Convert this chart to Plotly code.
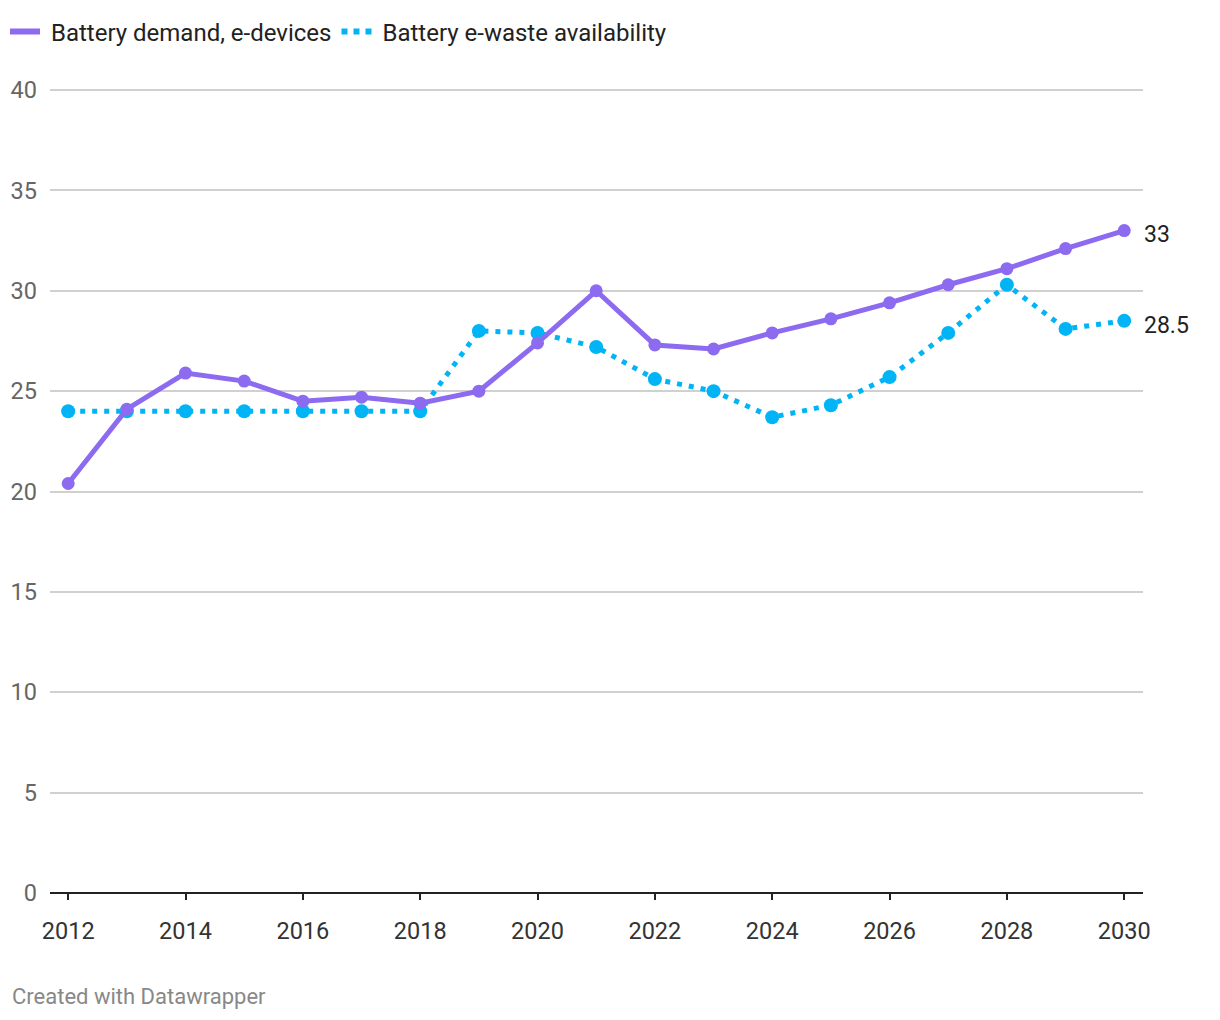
import plotly.graph_objects as go

years = list(range(2012, 2031))
demand = [20.4, 24.1, 25.9, 25.5, 24.5, 24.7, 24.4, 25.0, 27.4, 30.0, 27.3, 27.1, 27.9, 28.6, 29.4, 30.3, 31.1, 32.1, 33.0]
ewaste = [24.0, 24.0, 24.0, 24.0, 24.0, 24.0, 24.0, 28.0, 27.9, 27.2, 25.6, 25.0, 23.7, 24.3, 25.7, 27.9, 30.3, 28.1, 28.5]
series_names = ["Battery demand, e-devices", "Battery e-waste availability"]
end_labels = ["33", "28.5"]
y_ticks = [0, 5, 10, 15, 20, 25, 30, 35, 40]
x_ticks = list(range(2012, 2031, 2))

purple = "#8c6bf0"
blue = "#00b4f5"
blue_dash = "5px,7px"

W, H = 1220, 1020
ML, MR, MT, MB = 50, 77, 87, 127

fig = go.Figure()
fig.add_trace(go.Scatter(
    x=years, y=ewaste, name=series_names[1], mode="lines+markers", showlegend=False,
    line=dict(color=blue, width=5, dash=blue_dash),
    marker=dict(color=blue, size=14),
))
fig.add_trace(go.Scatter(
    x=years, y=demand, name=series_names[0], mode="lines+markers", showlegend=False,
    line=dict(color=purple, width=5),
    marker=dict(color=purple, size=13),
))
# legend entries
fig.add_trace(go.Scatter(x=[None], y=[None], name="\u00a0" + series_names[0], mode="lines",
                         line=dict(color=purple, width=6)))
fig.add_trace(go.Scatter(x=[None], y=[None], name="\u00a0" + series_names[1], mode="lines",
                         line=dict(color=blue, width=6, dash="6px,6px")))

fig.add_annotation(x=years[-1], y=demand[-1], text=end_labels[0], showarrow=False,
                   xanchor="left", xshift=18, yshift=-4, font=dict(size=23, color="#222"))
fig.add_annotation(x=years[-1], y=ewaste[-1], text=end_labels[1], showarrow=False,
                   xanchor="left", xshift=18, yshift=-5, font=dict(size=23, color="#222"))

plot_h = H - MT - MB
plot_w = W - ML - MR
fig.add_annotation(x=(10 - ML) / plot_w, y=(H - MB - 997) / plot_h, xref="paper", yref="paper",
                   xanchor="left", yanchor="middle",
                   text="Created with Datawrapper", showarrow=False,
                   font=dict(size=22, color="#888"))

fig.update_layout(
    width=W, height=H,
    margin=dict(l=ML, r=MR, t=MT, b=MB, autoexpand=False),
    paper_bgcolor="white", plot_bgcolor="white",
    font=dict(family="Roboto", size=23, color="#333"),
    showlegend=True,
    legend=dict(orientation="h", x=5 / W, xref="container", y=1 - 32 / H, yref="container",
                xanchor="left", yanchor="middle",
                font=dict(size=24, color="#222"), itemwidth=30,
                tracegroupgap=0),
    xaxis=dict(range=[2011.69, 2030.32], tickvals=x_ticks, ticktext=[str(t) for t in x_ticks],
               showgrid=False, zeroline=False, showline=False,
               ticks="outside", ticklen=6, tickwidth=2, tickcolor="#222",
               ticklabelstandoff=11,
               tickfont=dict(size=23.5, color="#333")),
    yaxis=dict(range=[0, 40.15], tickvals=y_ticks, ticktext=[str(t) for t in y_ticks],
               showgrid=True, gridcolor="#d0d0d0", gridwidth=1.5,
               zeroline=True, zerolinecolor="#222", zerolinewidth=2,
               showline=False, ticks="", ticklabelstandoff=12,
               tickfont=dict(size=23.5, color="#666")),
)

fig.write_html("out.html")
